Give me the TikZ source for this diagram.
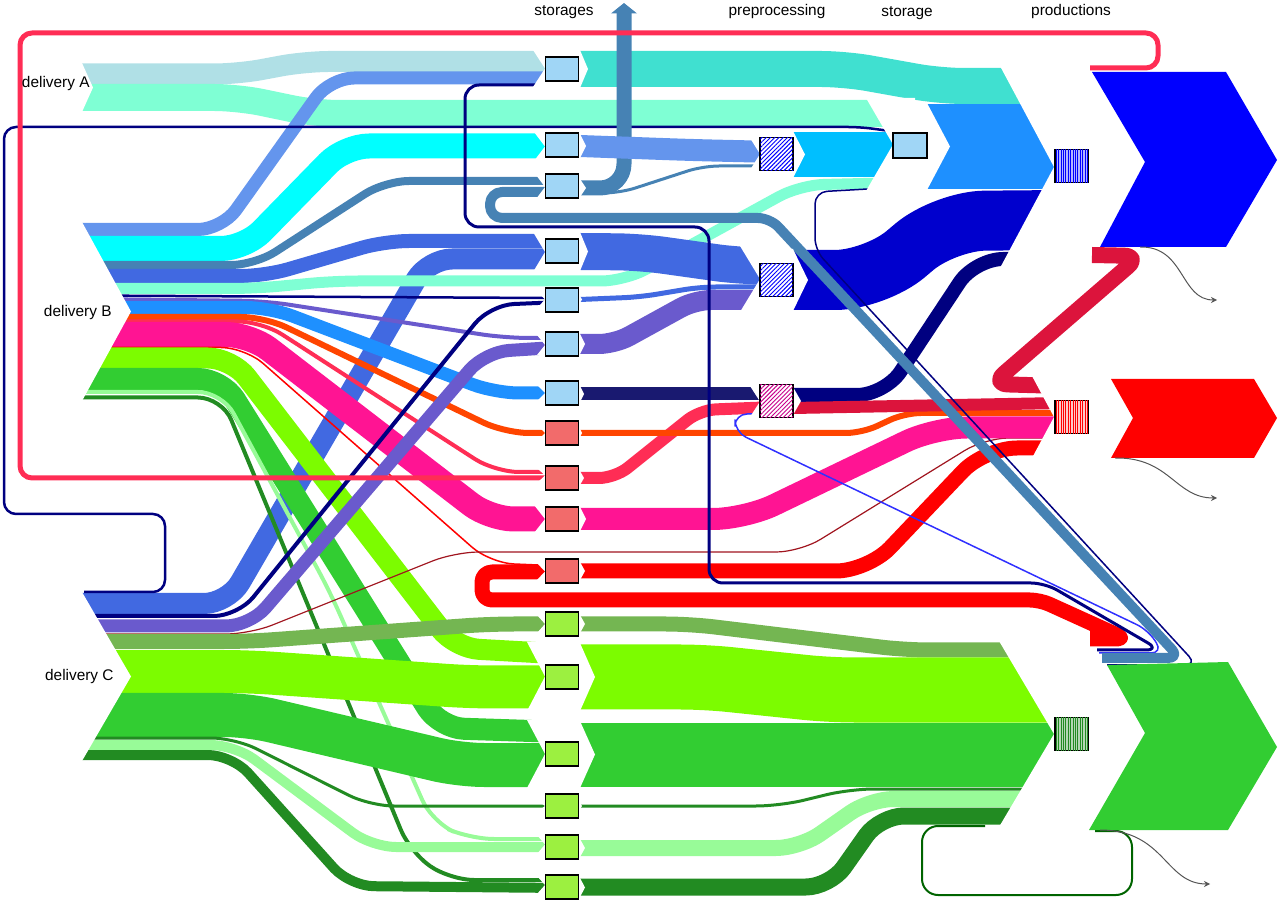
\documentclass[tikz,border=0pt]{standalone}
\usepackage{fontspec}
\setmainfont{Liberation Sans}
\usepackage{tikz}
\usetikzlibrary{arrows.meta}
\usetikzlibrary{patterns.meta}

\definecolor{powderblue}{HTML}{B0E0E6}
\definecolor{aquamarine}{HTML}{7FFFD4}
\definecolor{cornflower}{HTML}{6495ED}
\definecolor{cyanband}{HTML}{00FFFF}
\definecolor{steelblue}{HTML}{4682B4}
\definecolor{royalblue}{HTML}{4169E1}
\definecolor{navyblue}{HTML}{000080}
\definecolor{slateblue}{HTML}{6A5ACD}
\definecolor{dodgerblue}{HTML}{1E90FF}
\definecolor{orangered}{HTML}{FF4500}
\definecolor{pinkred}{HTML}{FF2D55}
\definecolor{deeppink}{HTML}{FF1493}
\definecolor{redband}{HTML}{FF0000}
\definecolor{lawngreen}{HTML}{7CFC00}
\definecolor{limegreen}{HTML}{32CD32}
\definecolor{palegreen}{HTML}{98FB98}
\definecolor{forestgreen}{HTML}{228B22}
\definecolor{olivegreen}{HTML}{74B652}
\definecolor{turquoise}{HTML}{40E0D0}
\definecolor{deepskyblue}{HTML}{00BFFF}
\definecolor{mediumblue}{HTML}{0000CD}
\definecolor{midnightblue}{HTML}{191970}
\definecolor{crimson}{HTML}{DC143C}
\definecolor{prodblue}{HTML}{0000FF}
\definecolor{darkgreen}{HTML}{006400}
\definecolor{brownred}{HTML}{A0141E}
\definecolor{bluethin}{HTML}{3030FF}
\definecolor{boxblue}{HTML}{A0D6F6}
\definecolor{boxred}{HTML}{F26B6B}
\definecolor{boxgreen}{HTML}{9CF040}
\definecolor{hatchpink}{HTML}{C8008C}
\definecolor{prodboxblue}{HTML}{B4B4FF}
\definecolor{prodboxred}{HTML}{FFC8C8}
\definecolor{prodboxgreen}{HTML}{B4D7B4}
\definecolor{wastegray}{HTML}{555555}

% white cuts: arrow tip into a box, notch out of a box
\newcommand\tipcut[4]{%
  \fill[white] ({#1-#4},{#2-1}) -- (#1,{(#2+#3)/2}) -- ({#1+22},{(#2+#3)/2}) -- ({#1+22},{#2-1}) -- cycle;
  \fill[white] ({#1-#4},{#3+1}) -- (#1,{(#2+#3)/2}) -- ({#1+22},{(#2+#3)/2}) -- ({#1+22},{#3+1}) -- cycle;}
\newcommand\notchcut[4]{%
  \fill[white] ({#1-3},{#2-1}) -- (#1,{#2-1}) -- ({#1+#4},{(#2+#3)/2}) -- (#1,{#3+1}) -- ({#1-3},{#3+1}) -- cycle;}

\tikzset{
    flow/.style={draw=#1, line join=round, rounded corners=12pt},
    band/.style={line width=#1*0.5pt},
    storbox/.style={draw=black, line width=0.8pt, minimum width=16.5pt, minimum height=12.2pt, inner sep=0pt},
    prepbox/.style={draw=black, line width=0.8pt, minimum size=16.5pt, inner sep=0pt, fill=white,
        postaction={pattern={Lines[angle=45,distance=1.5pt,line width=0.5pt]}, pattern color=#1}},
    prodbox/.style 2 args={draw=black, line width=0.8pt, minimum size=16.5pt, inner sep=0pt, fill=#1,
        postaction={pattern={Lines[angle=90,distance=1.2pt,line width=0.3pt]}, pattern color=#2}},
    waste/.style={draw=wastegray, line width=0.5pt, -{Stealth[length=3pt,width=3pt]}},
    heading/.style={font=\fontsize{7.7}{9}\selectfont, inner sep=0pt},
}

\begin{document}
\begin{tikzpicture}[x=0.5pt, y=-0.5pt]
	\useasboundingbox (0,0) rectangle (1280,908);

	% delivery A
	\draw[flow=powderblue, band=21] (82,74) -- (238,74) -- (305,61.5) -- (562,61.5);
	\draw[flow=aquamarine, band=27] (82,97.5) -- (238,97.5) -- (315,113.5) -- (885,113.5);

	% delivery C, under the B flows
	\draw[flow=royalblue, band=21] (82,603.5) -- (228,603.5) -- (428,259) -- (562,259);

	% delivery B
	\draw[flow=cornflower, band=13] (82,229.5) -- (222,229.5) -- (330,78) -- (562,78);
	\draw[flow=cyanband, band=25] (82,248.5) -- (245,248.5) -- (345,146) -- (562,146);
	\draw[flow=steelblue, band=8] (82,265) -- (255,265) -- (385,181) -- (562,181);
	\draw[flow=royalblue, band=14] (82,276) -- (265,276) -- (385,241) -- (562,241);
	\draw[flow=navyblue, band=2.5] (82,295.5) -- (545,298);
	\draw[flow=slateblue, band=4] (82,299) -- (265,301) -- (505,338) -- (562,338);
	\draw[flow=dodgerblue, band=13] (82,307.5) -- (270,307.5) -- (495,393) -- (562,393);
	\draw[flow=orangered, band=6] (82,317) -- (265,317) -- (505,433) -- (562,433);
	\draw[flow=pinkred, band=4] (82,321.5) -- (262,321.5) -- (495,472) -- (562,472);
	\draw[flow=deeppink, band=25] (82,334.5) -- (250,334.5) -- (490,519) -- (562,519);
	\draw[flow=redband, band=1.5] (82,347.5) -- (245,347.5) -- (490,563) -- (562,566);
	\draw[flow=lawngreen, band=21] (82,358) -- (232,358) -- (455,648) -- (562,654);
	\draw[flow=limegreen, band=22] (82,379) -- (222,379) -- (440,728) -- (562,732);
	\draw[flow=palegreen, band=4] (82,392) -- (222,392) -- (330,592) -- (432,822) -- (470,839) -- (562,839);
	\draw[flow=forestgreen, band=4] (82,397.5) -- (222,397.5) -- (410,852) -- (450,880) -- (562,880);
	\draw[flow=aquamarine, band=11] (82,288.5) -- (255,288.5) -- (335,281) -- (625,281) -- (800,185) -- (885,183);

	% delivery C
	\draw[flow=navyblue, band=4] (82,616) -- (238,616) -- (490,305) -- (562,302);
	\draw[flow=slateblue, band=13] (82,626) -- (250,626) -- (485,352) -- (562,347);
	\draw[flow=brownred, band=1.2] (82,634) -- (250,634) -- (455,552) -- (800,552) -- (985,438) -- (1062,438);
	\draw[flow=olivegreen, band=15] (82,641.5) -- (248,641.5) -- (490,624) -- (562,624);
	\draw[flow=lawngreen, band=43] (82,671.5) -- (248,671.5) -- (470,687) -- (562,687);
	\draw[flow=limegreen, band=44] (82,715) -- (248,715) -- (460,765) -- (562,765);
	\draw[flow=forestgreen, band=3] (82,738) -- (235,738) -- (370,806) -- (562,806);
	\draw[flow=palegreen, band=10] (82,745) -- (235,745) -- (372,847) -- (562,847);
	\draw[flow=forestgreen, band=10] (82,755) -- (232,755) -- (350,886) -- (562,888);
	\draw[flow=navyblue, band=2.5, rounded corners=6pt] (84,592) -- (165,592) -- (165,514) -- (4,514) -- (4,127) -- (860,127) -- (890,131);

	% out of the storages
	\draw[flow=turquoise, band=36] (580,69) -- (845,69) -- (940,86) -- (1062,86);
	\draw[flow=steelblue, band=15, -{Triangle[length=0pt 0.7,width=0pt 1.7]}] (580,188) -- (624,188) -- (624,3);
	\draw[flow=steelblue, band=3, rounded corners=8pt] (580,193) -- (620,193) -- (703,166) -- (776,166);
	\draw[flow=cornflower, band=22] (580,146) -- (690,150) -- (776,152);
	\draw[flow=royalblue, band=37] (580,251.5) -- (640,252) -- (740,266) -- (776,266);
	\draw[flow=royalblue, band=5, rounded corners=8pt] (580,299.5) -- (640,297) -- (700,287) -- (776,287);
	\draw[flow=slateblue, band=20, rounded corners=8pt] (580,344) -- (615,344) -- (695,300) -- (776,300);
	\draw[flow=midnightblue, band=13] (580,394) -- (776,394);
	\draw[flow=pinkred, band=12, rounded corners=8pt] (580,478) -- (615,478) -- (700,410) -- (776,407);
	\draw[flow=orangered, band=6, rounded corners=8pt] (580,433) -- (862,433) -- (905,413) -- (1062,413);
	\draw[flow=deeppink, band=22, rounded corners=16pt] (580,519) -- (745,519) -- (935,427.5) -- (1062,427.5);
	\draw[flow=redband, band=15, rounded corners=16pt] (580,571) -- (868,571) -- (985,448) -- (1062,448);
	\draw[flow=olivegreen, band=15] (580,624) -- (690,624) -- (905,650) -- (1062,650);
	\draw[flow=lawngreen, band=65] (580,677) -- (705,677) -- (830,690) -- (1062,690);
	\draw[flow=limegreen, band=64] (580,754.5) -- (1062,754.5);
	\draw[flow=forestgreen, band=3] (580,806) -- (780,806) -- (850,789) -- (1062,789);
	\draw[flow=palegreen, band=16] (580,848) -- (800,848) -- (870,799) -- (1062,799);
	\draw[flow=forestgreen, band=17] (580,887) -- (830,887) -- (880,816) -- (1062,816);

	% preprocessing and storage
	\draw[flow=deepskyblue, band=45] (793,154.5) -- (900,154.5);
	\draw[flow=mediumblue, band=60, rounded corners=20pt] (793,280) -- (875,280) -- (945,221) -- (1062,220);
	\draw[flow=navyblue, band=14, rounded corners=14pt] (793,395) -- (885,395) -- (975,259) -- (1062,259);
	\draw[flow=crimson, band=12] (793,408) -- (1062,403);
	\draw[flow=dodgerblue, band=85] (927,146.5) -- (1062,146.5);

	% loops back from the productions
	\draw[flow=pinkred, band=5, rounded corners=6pt] (1090,68) -- (1158,68) -- (1158,33) -- (20,33) -- (20,478) -- (562,478);
	\draw[flow=crimson, band=16, rounded corners=8pt] (1092,255) -- (1140,256) -- (992,384) -- (1062,386);
	\draw[flow=redband, band=15, rounded corners=5pt] (1090,639) -- (1126,639) -- (1040,600) -- (482,600) -- (482,572) -- (562,572);
	\draw[flow=navyblue, band=3, rounded corners=7pt] (1097,650) -- (1160,650) -- (1045,583) -- (709,583) -- (709,227) -- (465,227) -- (465,85) -- (562,85);
	\draw[flow=bluethin, band=1.5, rounded corners=6pt] (1099,653) -- (1163,653) -- (1148,630) -- (735,432) -- (735,414) -- (776,414);
	\draw[flow=steelblue, band=10, rounded corners=6pt] (1102,658) -- (1180,658) -- (770,218) -- (490,218) -- (490,192) -- (562,192);
	\draw[flow=navyblue, band=1.5, rounded corners=6pt] (1107,665) -- (1197,665) -- (815,250) -- (815,192) -- (885,188);
	\draw[flow=darkgreen, band=2, rounded corners=8pt] (1095,831) -- (1132,831) -- (1132,895) -- (922,895) -- (922,826) -- (985,826);

	% arrow tips and notches
	\foreach \x/\a/\b/\l in {545/51/86/12, 545/133/160/11, 545/176/198/9, 545/233/271/12,
	    545/294/305/6, 545/336/354/8, 545/386/400/8, 545/429/437/5, 545/469/482/8,
	    545/506/532/11, 545/563/580/9, 545/616/632/8, 545/643/710/18, 545/721/787/18,
	    545/804/808/4, 545/836/853/8, 545/877/893/8, 760/139/169/10, 760/247/311/20,
	    760/387/416/10, 893/99/190/27, 1054/67/267/54, 1054/377/457/22, 1054/642/826/55}
	    {\tipcut{\x}{\a}{\b}{\l}}
	\foreach \x/\a/\b/\d in {580/51/87/8, 580/135/157/6, 580/180/196/6, 580/233/270/8,
	    580/297/302/2, 580/335/353/5, 580/387/401/4, 580/430/436/2, 580/472/484/4,
	    580/508/530/6, 580/563/579/5, 580/616/632/5, 580/644/710/15, 580/722/787/15,
	    580/804/808/2, 580/840/856/5, 580/879/896/5, 793/132/177/12, 793/250/310/15,
	    793/388/414/8, 927/104/189/23, 82/64/111/11, 82/223/400/49, 82/593/760/49}
	    {\notchcut{\x}{\a}{\b}{\d}}

	% storages
	\foreach \n/\y in {1/69,2/145,3/186,4/251,5/300,6/344,7/393}
	    \node[storbox, fill=boxblue] (st\n) at (562,\y) {};
	\foreach \n/\y in {1/433,2/478,3/519,4/571}
	    \node[storbox, fill=boxred] (sr\n) at (562,\y) {};
	\foreach \n/\y in {1/624,2/677,3/754,4/806,5/847,6/887}
	    \node[storbox, fill=boxgreen] (sg\n) at (562,\y) {};
	\node[prepbox=blue] (pp1) at (776.5,154) {};
	\node[prepbox=blue] (pp2) at (776.5,280) {};
	\node[prepbox=hatchpink] (pp3) at (776.5,401) {};
	\node[storbox, fill=boxblue, minimum width=17pt, minimum height=12.5pt] (sto) at (910,145.5) {};

	% productions
	\fill[prodblue] (1092,72) -- (1226,72) -- (1277,160) -- (1226,247) -- (1100,247) -- (1145,162) -- cycle;
	\fill[redband] (1111,379) -- (1254,379) -- (1277,418) -- (1254,458) -- (1111,458) -- (1133,418) -- cycle;
	\fill[limegreen] (1107,665) -- (1228,662) -- (1277,747) -- (1228,830) -- (1089,830) -- (1145,733) -- cycle;
	\node[prodbox={prodboxblue}{blue}] (prB) at (1071.5,166) {};
	\node[prodbox={prodboxred}{red}] (prR) at (1071.5,417) {};
	\node[prodbox={prodboxgreen}{forestgreen}] (prG) at (1071.5,734) {};

	\coordinate (wB) at (1217,300);
	\coordinate (wR) at (1217,498);
	\coordinate (wG) at (1210,884);
	\draw[waste] (1140,247) .. controls (1185,246) and (1180,300) .. (wB);
	\draw[waste] (1115,458) .. controls (1170,457) and (1175,498) .. (wR);
	\draw[waste] (1100,830) .. controls (1165,830) and (1165,884) .. (wG);

	\node[heading] (hStor) at (564,12) {storages};
	\node[heading] (hPrep) at (777,12) {preprocessing};
	\node[heading] (hStorage) at (907,13) {storage};
	\node[heading] (hProd) at (1071,12) {productions};
	\node[heading, anchor=east] (dA) at (90,84) {delivery A};
	\node[heading, anchor=east] (dB) at (112,313) {delivery B};
	\node[heading, anchor=east] (dC) at (114,677) {delivery C};
\end{tikzpicture}
\end{document}
